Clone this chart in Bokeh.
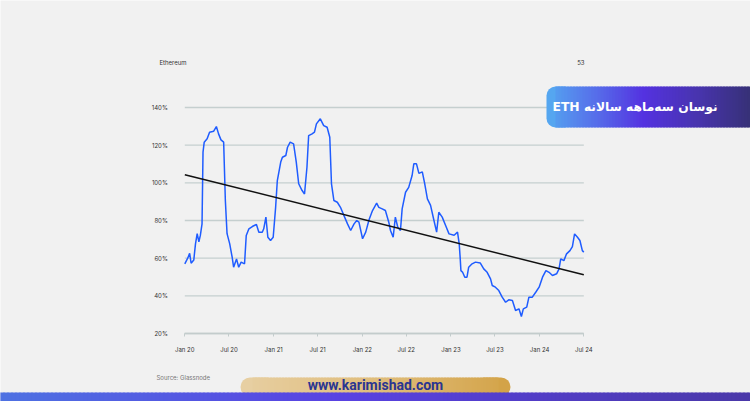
import pandas as pd
from bokeh.plotting import figure
from bokeh.models import (BoxAnnotation, Label, FixedTicker, Range1d, ColumnDataSource,
                          DatetimeAxis, LinearAxis)
from bokeh.embed import file_html
from bokeh.resources import INLINE

# ---------------- data ----------------
dates = [
    "2020-01-01", "2020-01-13", "2020-01-21", "2020-01-27", "2020-02-07", "2020-02-14", "2020-02-21",
    "2020-02-28", "2020-03-05", "2020-03-12", "2020-03-16", "2020-03-21", "2020-04-02", "2020-04-12",
    "2020-04-29", "2020-05-10", "2020-05-19", "2020-05-29", "2020-06-09", "2020-06-16", "2020-06-23",
    "2020-07-04", "2020-07-14", "2020-07-20", "2020-08-01", "2020-08-10", "2020-08-20", "2020-09-03",
    "2020-09-10", "2020-09-21", "2020-10-05", "2020-10-22", "2020-11-01", "2020-11-15", "2020-11-21",
    "2020-11-30", "2020-12-08", "2020-12-19", "2020-12-30", "2021-01-09", "2021-01-16", "2021-01-30",
    "2021-02-06", "2021-02-20", "2021-02-27", "2021-03-10", "2021-03-24", "2021-04-04", "2021-04-14",
    "2021-04-28", "2021-05-08", "2021-05-18", "2021-05-25", "2021-06-08", "2021-06-18", "2021-06-26",
    "2021-07-12", "2021-07-26", "2021-08-09", "2021-08-20", "2021-08-27", "2021-09-06", "2021-09-20",
    "2021-10-03", "2021-10-17", "2021-11-01", "2021-11-14", "2021-11-28", "2021-12-09", "2021-12-18",
    "2022-01-02", "2022-01-15", "2022-01-29", "2022-02-12", "2022-03-01", "2022-03-10", "2022-03-24",
    "2022-04-06", "2022-04-20", "2022-04-27", "2022-05-08", "2022-05-17", "2022-05-27", "2022-06-07",
    "2022-06-14", "2022-06-28", "2022-07-11", "2022-07-25", "2022-08-01", "2022-08-12", "2022-08-22",
    "2022-09-05", "2022-09-15", "2022-09-26", "2022-10-09", "2022-10-23", "2022-11-03", "2022-11-12",
    "2022-11-26", "2022-12-10", "2022-12-24", "2023-01-14", "2023-01-28", "2023-02-04", "2023-02-08",
    "2023-02-11", "2023-02-18", "2023-02-27", "2023-03-08", "2023-03-15", "2023-03-29", "2023-04-12",
    "2023-05-02", "2023-05-16", "2023-05-30", "2023-06-13", "2023-06-20", "2023-07-03", "2023-07-17",
    "2023-07-31", "2023-08-14", "2023-08-27", "2023-09-11", "2023-09-24", "2023-10-08", "2023-10-18",
    "2023-10-26", "2023-11-09", "2023-11-18", "2023-12-02", "2023-12-16", "2023-12-30", "2024-01-13",
    "2024-01-27", "2024-02-09", "2024-02-23", "2024-03-11", "2024-03-21", "2024-03-28", "2024-04-10",
    "2024-04-21", "2024-05-05", "2024-05-15", "2024-05-24", "2024-06-05", "2024-06-15", "2024-06-25",
    "2024-07-01",
]
volatility = [
    57.0, 60.0, 62.6, 57.3, 59.0, 67.6, 73.0,
    68.7, 72.1, 78.2, 116.3, 121.6, 123.4, 126.9,
    127.4, 129.9, 126.0, 122.8, 121.6, 90.6, 73.0,
    67.6, 60.5, 55.2, 59.6, 55.2, 57.9, 57.0,
    72.0, 75.6, 76.8, 77.9, 73.8, 73.8, 75.6,
    81.8, 71.1, 69.4, 71.1, 87.0, 101.2, 111.0,
    113.6, 114.5, 118.9, 121.6, 120.7, 111.0, 99.5,
    95.9, 94.1, 108.3, 125.1, 126.0, 126.9, 131.3,
    134.0, 130.4, 129.5, 124.2, 99.5, 90.6, 89.7,
    87.0, 82.7, 78.2, 74.7, 78.2, 80.0, 79.1,
    70.3, 73.8, 80.5, 85.3, 89.2, 87.0, 86.2,
    85.3, 79.1, 74.7, 71.1, 81.8, 76.4, 74.7,
    86.2, 95.0, 97.6, 103.9, 110.1, 110.1, 105.0,
    105.8, 99.5, 91.5, 88.0, 80.0, 73.8, 84.4,
    81.8, 77.3, 72.9, 72.2, 73.8, 67.6, 60.0,
    53.4, 52.5, 49.9, 49.9, 55.2, 57.0, 57.9,
    57.4, 54.3, 52.5, 49.0, 45.5, 44.6, 42.8,
    39.3, 36.6, 37.9, 37.5, 32.2, 33.1, 29.0,
    33.1, 34.0, 39.3, 39.3, 41.9, 44.6, 49.9,
    53.4, 52.5, 50.8, 51.7, 54.3, 59.6, 58.7,
    62.3, 64.0, 66.1, 72.9, 71.1, 69.4, 64.0,
    63.2,
]
trend_dates = ["2020-01-01", "2024-07-01"]
trend_values = [104.3, 51.2]

x_tick_dates = ["2020-01-01", "2020-07-01", "2021-01-01", "2021-07-01", "2022-01-01",
                "2022-07-01", "2023-01-01", "2023-07-01", "2024-01-01", "2024-07-01"]
x_tick_labels = ["Jan 20", "Jul 20", "Jan 21", "Jul 21", "Jan 22",
                 "Jul 22", "Jan 23", "Jul 23", "Jan 24", "Jul 24"]
y_ticks = [20, 40, 60, 80, 100, 120, 140]
y_tick_labels = ["20%", "40%", "60%", "80%", "100%", "120%", "140%"]

chart_name = "Ethereum"
page_number = "53"
source_text = "Source: Glassnode"
badge_text = "ETH نوسان سه\u200cماهه سالانه"
site_text = "www.karimishad.com"

# ---------------- layout constants (canvas pixels) ----------------
W, H = 750, 401
BG = "#f1f1f1"
CL, CR = 184.3, 583.3      # chart left / right
CT, CB = 107.0, 333.0      # chart top (140%) / bottom (20%)


def ms(d):
    return pd.Timestamp(d).value / 1e6


t0, t1 = ms(x_tick_dates[0]), ms(x_tick_dates[-1])
kx = (t1 - t0) / (CR - CL)
y0v, y1v = y_ticks[0], y_ticks[-1]
ky = (y1v - y0v) / (CB - CT)

p = figure(width=W, height=H, x_axis_type=None, y_axis_type=None,
           x_range=Range1d(t0 - CL * kx, t1 + (W - CR) * kx),
           y_range=Range1d(y0v - (H - CB) * ky, y1v + CT * ky),
           output_backend="svg", toolbar_location=None,
           min_border=0)
p.background_fill_color = BG
p.border_fill_color = BG
p.outline_line_color = None
p.grid.visible = False

# gridlines
p.segment(x0=[pd.Timestamp(x_tick_dates[0])] * len(y_ticks), x1=[pd.Timestamp(x_tick_dates[-1])] * len(y_ticks),
          y0=y_ticks, y1=y_ticks, line_color="#c5cfcf", line_width=1.3)

# axes
tick_ms = [int(ms(d)) for d in x_tick_dates]
xaxis = DatetimeAxis(ticker=FixedTicker(ticks=tick_ms), fixed_location=y_ticks[0], bounds=(t0, t1))
xaxis.major_label_overrides = {t: l for t, l in zip(tick_ms, x_tick_labels)}
xaxis.axis_line_color = "#c3cccc"
xaxis.axis_line_width = 1.3
xaxis.major_tick_line_color = "#c3cccc"
xaxis.major_tick_in = 0
xaxis.major_tick_out = 3
xaxis.minor_tick_line_color = None
xaxis.major_label_standoff = 9
xaxis.major_label_text_font_size = "6px"
xaxis.major_label_text_color = "#333333"
xaxis.major_label_text_font = "Inter"
p.add_layout(xaxis, "below")

yaxis = LinearAxis(ticker=FixedTicker(ticks=y_ticks), fixed_location=t0, bounds=(y0v, y1v))
yaxis.major_label_overrides = {t: l for t, l in zip(y_ticks, y_tick_labels)}
yaxis.axis_line_color = None
yaxis.major_tick_line_color = None
yaxis.minor_tick_line_color = None
yaxis.major_label_standoff = 11
yaxis.major_label_text_font_size = "6px"
yaxis.major_label_text_color = "#333333"
yaxis.major_label_text_font = "Inter"
p.add_layout(yaxis, "left")

# series
src = ColumnDataSource(dict(x=pd.to_datetime(dates), y=volatility))
tsrc = ColumnDataSource(dict(x=pd.to_datetime(trend_dates), y=trend_values))
p.line("x", "y", source=src, line_color="#1f5cff", line_width=1.5)
p.line("x", "y", source=tsrc, line_color="#111111", line_width=1.5)


def sx(cx):
    return cx


def sy(cy):
    return H - cy


def hexmix(stops, t):
    for i in range(len(stops) - 1):
        ta, ca = stops[i]
        tb, cb = stops[i + 1]
        if t <= tb:
            f = 0 if tb == ta else (t - ta) / (tb - ta)
            a = [int(ca[k:k + 2], 16) for k in (1, 3, 5)]
            b = [int(cb[k:k + 2], 16) for k in (1, 3, 5)]
            return "#%02x%02x%02x" % tuple(round(a[j] + (b[j] - a[j]) * f) for j in range(3))
    return stops[-1][1]


def box(x0, x1, y0, y1, color, radius=0):
    kw = dict(left=sx(x0), right=sx(x1), top=sy(y0), bottom=sy(y1),
              left_units="screen", right_units="screen", top_units="screen", bottom_units="screen",
              fill_color=color, fill_alpha=1, line_color=None)
    if radius:
        kw["border_radius"] = radius
    p.add_layout(BoxAnnotation(**kw))


def gradient_box(x0, x1, y0, y1, stops, radius=0, step=3, round_left=True, round_right=True):
    if radius:
        if round_left:
            box(x0, x0 + 3 * radius, y0, y1, stops[0][1], radius)
        if round_right:
            box(x1 - 3 * radius, x1, y0, y1, stops[-1][1], radius)
    a = x0 + (radius if (radius and round_left) else 0)
    b = x1 - (radius if (radius and round_right) else 0)
    x = a
    while x < b:
        xe = min(x + step, b)
        t = ((x + xe) / 2 - x0) / (x1 - x0)
        box(x, min(xe + 1, b), y0, y1, hexmix(stops, t))
        x = xe


# badge top-right
gradient_box(546, 762, 86, 127,
             [(0.0, "#55a6f0"), (0.22, "#5670ea"), (0.45, "#5432e0"), (0.7, "#4834ae"), (1.0, "#33306a")],
             radius=9, step=3, round_right=False)
p.add_layout(Label(x=sx(552), y=sy(106.5), x_units="screen", y_units="screen", text=badge_text,
                   text_font="DejaVu Sans", text_font_style="bold", text_font_size="12.3px",
                   text_color="white", text_align="left", text_baseline="middle"))

# bottom gold pill
gradient_box(240, 510, 377, 396,
             [(0.0, "#e7cfa2"), (0.5, "#e0bd7c"), (1.0, "#d3a348")],
             radius=12, step=3)
# bottom band
gradient_box(-5, 755, 392, 402,
             [(0.0, "#4e72e2"), (0.45, "#5942e2"), (1.0, "#4a38a8")],
             radius=0, step=4)
p.add_layout(Label(x=sx(375), y=sy(384.5), x_units="screen", y_units="screen", text=site_text,
                   text_font="Roboto", text_font_style="bold", text_font_size="14px",
                   text_color="#2a3591", text_align="center", text_baseline="middle"))

# small header / footer texts
p.add_layout(Label(x=sx(159), y=sy(62), x_units="screen", y_units="screen", text=chart_name,
                   text_font="Inter", text_font_size="6px", text_color="#333333",
                   text_align="left", text_baseline="middle"))
p.add_layout(Label(x=sx(584), y=sy(62), x_units="screen", y_units="screen", text=page_number,
                   text_font="Inter", text_font_size="6px", text_color="#333333",
                   text_align="right", text_baseline="middle"))
p.add_layout(Label(x=sx(156), y=sy(377), x_units="screen", y_units="screen", text=source_text,
                   text_font="Inter", text_font_size="6px", text_color="#777777",
                   text_align="left", text_baseline="middle"))

open("out.html", "w").write(file_html(p, INLINE))
